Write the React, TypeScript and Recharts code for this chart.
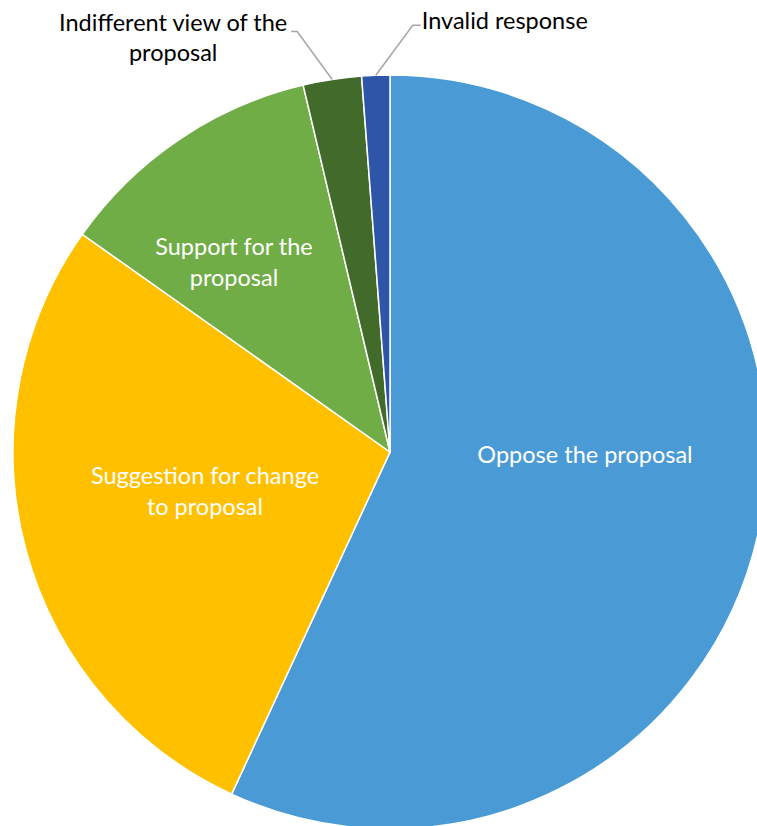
import React from 'react';
import { PieChart, Pie, Cell } from 'recharts';

const categories = [
  'Oppose the proposal',
  'Suggestion for change to proposal',
  'Support for the proposal',
  'Indifferent view of the proposal',
  'Invalid response',
];
const shares = [56.9, 27.9, 11.5, 2.5, 1.2];
const colors = ['#4A9BD5', '#FFC000', '#70AD47', '#426B2B', '#2F55A8'];

// label text split into lines as in the original
const labelLines: Record<string, string[]> = {
  'Oppose the proposal': ['Oppose the proposal'],
  'Suggestion for change to proposal': ['Suggestion for change', 'to proposal'],
  'Support for the proposal': ['Support for the', 'proposal'],
  'Indifferent view of the proposal': ['Indifferent view of the', 'proposal'],
  'Invalid response': ['Invalid response'],
};

const data = categories.map((name, i) => ({ name, value: shares[i] }));

const RAD = Math.PI / 180;
const FONT = 'Lato, "Open Sans", sans-serif';
const SIZE = 23.5;
const LINE = 31;

const polar = (cx: number, cy: number, r: number, angle: number) => ({
  x: cx + r * Math.cos(-angle * RAD),
  y: cy + r * Math.sin(-angle * RAD),
});

// inside labels: offset of the text block centre from the pie centre
const insideOffset: Record<string, [number, number]> = {
  'Oppose the proposal': [195, 2],
  'Suggestion for change to proposal': [-185, 38],
  'Support for the proposal': [-156, -191],
};

const renderLabel = (props: any) => {
  const { cx, cy, midAngle, outerRadius, name } = props;
  const lines = labelLines[name] || [name];

  if (insideOffset[name]) {
    const [dx, dy] = insideOffset[name];
    const x = cx + dx;
    const y0 = cy + dy - ((lines.length - 1) * LINE) / 2;
    return (
      <text fill="#fff" fontFamily={FONT} fontSize={SIZE} textAnchor="middle">
        {lines.map((l, i) => (
          <tspan key={i} x={x} y={y0 + i * LINE} dominantBaseline="central">
            {l}
          </tspan>
        ))}
      </text>
    );
  }

  const edge = polar(cx, cy, outerRadius, midAngle);
  const toRight = name === 'Invalid response';
  const elbow = toRight ? { x: edge.x + 37, y: edge.y - 50 } : { x: edge.x - 35, y: edge.y - 48 };
  const end = { x: elbow.x + (toRight ? 8 : -6), y: elbow.y };

  if (toRight) {
    return (
      <g>
        <polyline
          points={`${edge.x},${edge.y} ${elbow.x},${elbow.y} ${end.x},${end.y}`}
          fill="none"
          stroke="#A6A6A6"
          strokeWidth={1.5}
        />
        <text x={end.x + 1} y={end.y - 5} fill="#000" fontFamily={FONT} fontSize={SIZE} dominantBaseline="central">
          {lines[0]}
        </text>
      </g>
    );
  }

  const blockCenter = end.x - 118;
  return (
    <g>
      <polyline
        points={`${edge.x},${edge.y} ${elbow.x},${elbow.y} ${end.x},${end.y}`}
        fill="none"
        stroke="#A6A6A6"
        strokeWidth={1.5}
      />
      <text fill="#000" fontFamily={FONT} fontSize={SIZE} textAnchor="middle">
        {lines.map((l, i) => (
          <tspan key={i} x={blockCenter} y={end.y - 9 + i * 30} dominantBaseline="central">
            {l}
          </tspan>
        ))}
      </text>
    </g>
  );
};

export default function App() {
  return (
    <div style={{ position: 'absolute', left: 0, top: 0, background: '#fff' }}>
      <PieChart width={757} height={826} margin={{ top: 0, right: 0, bottom: 0, left: 0 }}>
        <Pie
          data={data}
          dataKey="value"
          nameKey="name"
          cx={390}
          cy={452}
          outerRadius={377}
          startAngle={90}
          endAngle={-270}
          stroke="#fff"
          strokeWidth={1.5}
          label={renderLabel}
          labelLine={false}
          isAnimationActive={false}
        >
          {data.map((d, i) => (
            <Cell key={d.name} fill={colors[i]} />
          ))}
        </Pie>
      </PieChart>
    </div>
  );
}
